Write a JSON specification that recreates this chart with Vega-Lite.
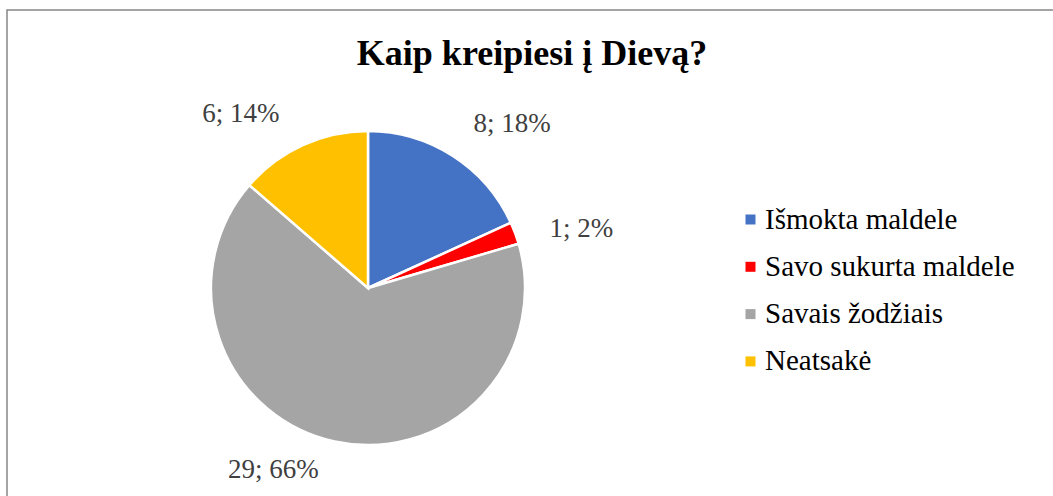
{
  "$schema": "https://vega.github.io/schema/vega-lite/v6.json",
  "autosize": {"type": "none"},
  "width": 1050,
  "height": 490,
  "padding": {"left": 7, "top": 10, "right": -4, "bottom": -4},
  "background": "white",
  "config": {
    "view": {"stroke": "#878787", "strokeWidth": 1.5},
    "font": "Liberation Serif",
    "legend": {"labelFont": "Liberation Serif", "labelFontSize": 29, "labelColor": "black"}
  },
  "title": {
    "text": "Kaip kreipiesi į Dievą?",
    "font": "Liberation Serif",
    "fontSize": 36,
    "fontWeight": "bold",
    "color": "black",
    "anchor": "middle",
    "baseline": "alphabetic",
    "offset": -91
  },
  "data": {
    "values": [
      {"cat": "\u00a0Išmokta maldele", "count": 8, "label": "8; 18%"},
      {"cat": "Savo sukurta maldele", "count": 1, "label": "1; 2%"},
      {"cat": "Savais žodžiais", "count": 29, "label": "29; 66%"},
      {"cat": "Neatsakė", "count": 6, "label": "6; 14%"}
    ]
  },
  "transform": [
    {"window": [{"op": "row_number", "as": "idx"}]}
  ],
  "encoding": {
    "theta": {"field": "count", "type": "quantitative", "stack": true},
    "order": {"field": "idx", "type": "quantitative", "sort": "ascending"},
    "color": {
      "field": "cat",
      "type": "nominal",
      "scale": {
        "domain": ["\u00a0Išmokta maldele", "Savo sukurta maldele", "Savais žodžiais", "Neatsakė"],
        "range": ["#4472C4", "#FF0000", "#A5A5A5", "#FFC000"]
      },
      "legend": {
        "orient": "none",
        "legendX": 729,
        "legendY": 195,
        "padding": 0,
        "title": null,
        "symbolType": "square",
        "symbolSize": 100,
        "symbolStrokeWidth": 0,
        "labelFont": "Liberation Serif",
        "labelFontSize": 29,
        "labelColor": "black",
        "labelOffset": 0,
        "rowPadding": 17.3,
        "labelLimit": 400
      }
    },
    "x": {"value": 361},
    "y": {"value": 278}
  },
  "layer": [
    {
      "mark": {"type": "arc", "outerRadius": 157, "stroke": "white", "strokeWidth": 2.5}
    },
    {
      "mark": {"type": "text", "radius": 200, "font": "Liberation Serif", "fontSize": 27, "baseline": "alphabetic", "dx": 36, "dy": 12},
      "encoding": {"text": {"condition": {"test": "datum.count == 8", "field": "label"}, "value": ""}, "color": {"value": "#404040"}}
    },
    {
      "mark": {"type": "text", "radius": 200, "font": "Liberation Serif", "fontSize": 27, "baseline": "alphabetic", "dx": 26, "dy": 19},
      "encoding": {"text": {"condition": {"test": "datum.count == 1", "field": "label"}, "value": ""}, "color": {"value": "#404040"}}
    },
    {
      "mark": {"type": "text", "radius": 200, "font": "Liberation Serif", "fontSize": 27, "baseline": "alphabetic", "dx": -52, "dy": -5},
      "encoding": {"text": {"condition": {"test": "datum.count == 29", "field": "label"}, "value": ""}, "color": {"value": "#404040"}}
    },
    {
      "mark": {"type": "text", "radius": 200, "font": "Liberation Serif", "fontSize": 27, "baseline": "alphabetic", "dx": -44, "dy": 16},
      "encoding": {"text": {"condition": {"test": "datum.count == 6", "field": "label"}, "value": ""}, "color": {"value": "#404040"}}
    }
  ]
}
